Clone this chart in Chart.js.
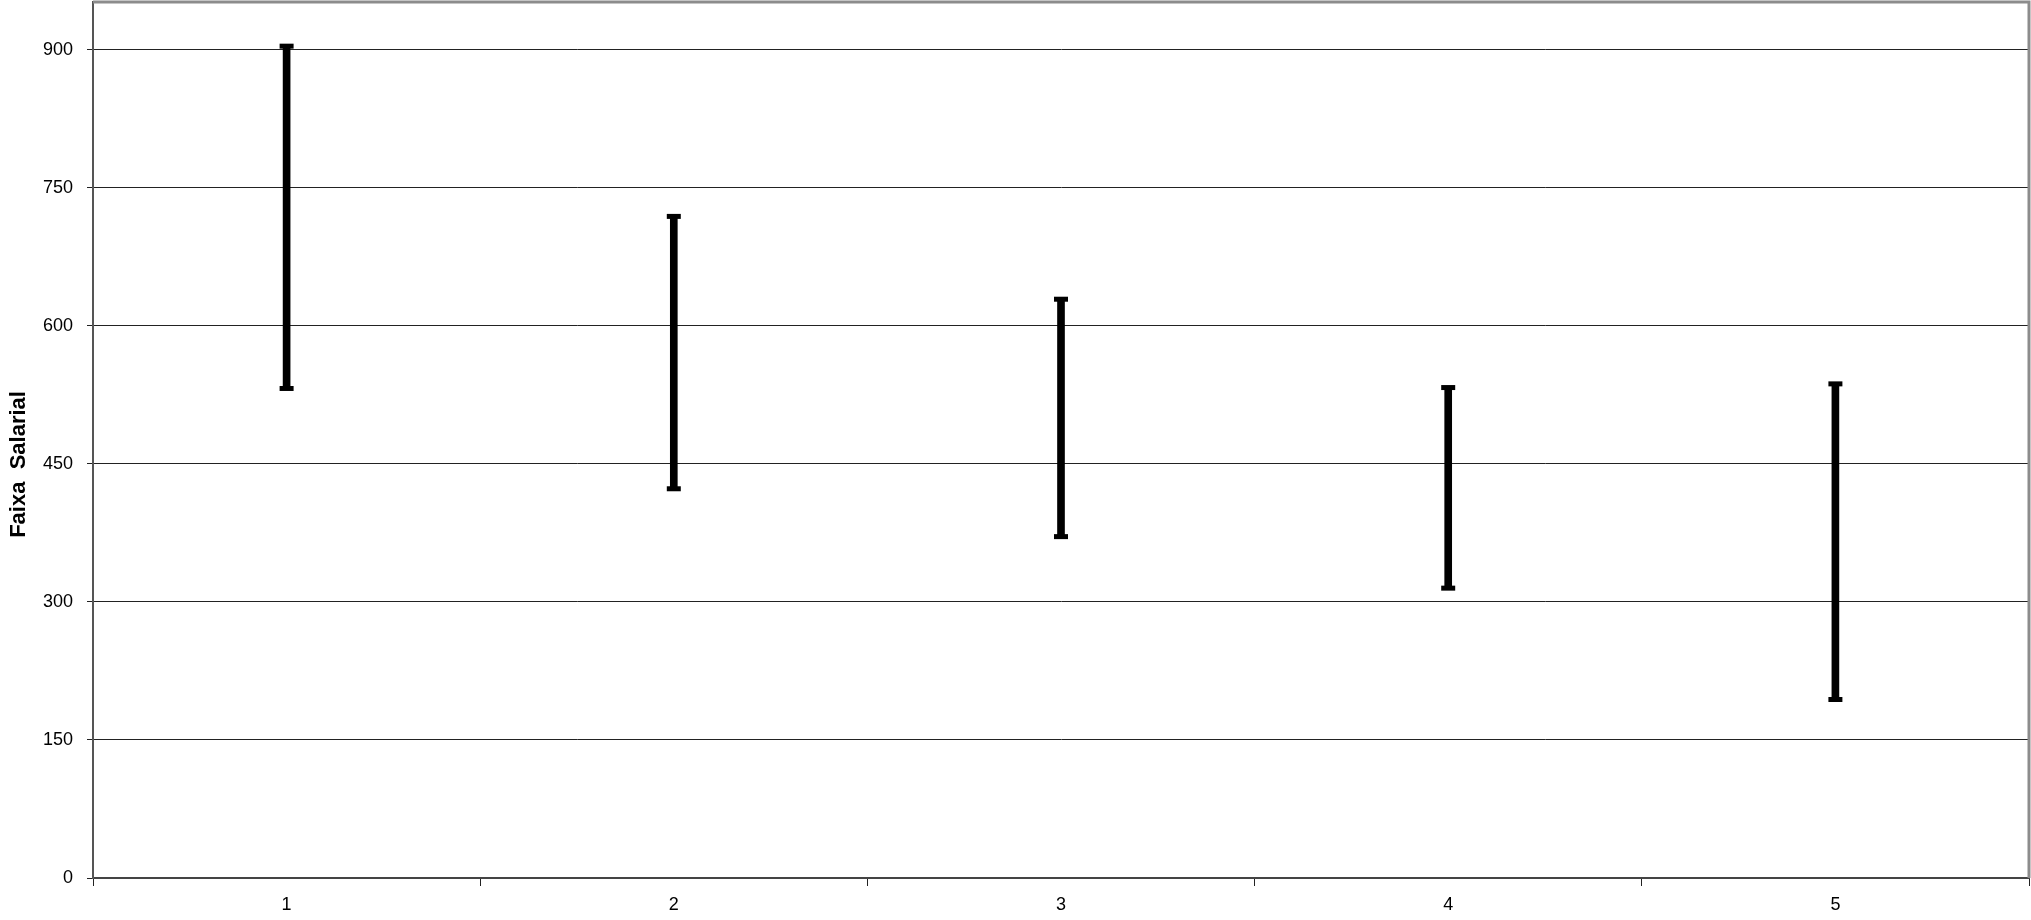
<!DOCTYPE html>
<html>
<head>
<meta charset="utf-8">
<title>Faixa Salarial</title>
<script src="https://cdn.jsdelivr.net/npm/chart.js@4.4.1/dist/chart.umd.min.js"></script>
<style>
  html, body { margin: 0; padding: 0; background: #ffffff; }
  #wrap { width: 2031px; height: 920px; }
</style>
</head>
<body>
<div id="wrap"><canvas id="chartFaixa"></canvas></div>
<script>
// ================================================
// Data
// ================================================

const categories = ['1', '2', '3', '4', '5'];
const highValues = [904, 719, 629, 533, 537];
const lowValues = [532, 423, 371, 315, 194];
const yTicks = [0, 150, 300, 450, 600, 750, 900];
const yMax = 952;

// ================================================
// Plot frame (top + right border, like the Excel plot area)
// ================================================

const frameBorder = {
  id: 'frameBorder',
  afterDraw(chart) {
    const a = chart.chartArea;
    const ctx = chart.ctx;
    ctx.save();
    ctx.strokeStyle = '#8c8c8c';
    ctx.lineWidth = 3;
    ctx.beginPath();
    ctx.moveTo(a.left, a.top);
    ctx.lineTo(a.right, a.top);
    ctx.lineTo(a.right, a.bottom);
    ctx.stroke();
    ctx.restore();
  }
};

const tickFont = { family: 'Liberation Sans, Arial, sans-serif', size: 18 };

// ================================================
// Chart
// ================================================

const ranges = categories.map((c, i) => [lowValues[i], highValues[i]]);

new Chart(document.getElementById('chartFaixa'), {
  type: 'bar',
  data: {
    labels: categories,
    datasets: [
      {
        label: 'Faixa',
        data: ranges,
        backgroundColor: '#000000',
        barThickness: 7,
        borderSkipped: false,
        order: 2
      },
      {
        type: 'line',
        label: 'Max',
        data: highValues,
        showLine: false,
        pointStyle: 'line',
        pointRadius: 7,
        borderWidth: 5,
        borderColor: '#000000',
        order: 1
      },
      {
        type: 'line',
        label: 'Min',
        data: lowValues,
        showLine: false,
        pointStyle: 'line',
        pointRadius: 7,
        borderWidth: 5,
        borderColor: '#000000',
        order: 1
      }
    ]
  },
  options: {
    responsive: true,
    maintainAspectRatio: false,
    animation: false,
    layout: { autoPadding: false, padding: { top: 2, right: 2, left: 0, bottom: 0 } },
    plugins: {
      legend: { display: false },
      tooltip: { enabled: false }
    },
    scales: {
      x: {
        offset: true,
        grid: {
          offset: true,
          drawOnChartArea: false,
          drawTicks: true,
          tickLength: 8,
          color: '#222222'
        },
        border: { color: '#444444', width: 2 },
        ticks: {
          color: '#000000',
          padding: 8,
          font: tickFont
        },
        afterFit(scale) {
          scale.height = 42;
          scale.paddingLeft = 0;
          scale.paddingRight = 0;
        }
      },
      y: {
        min: 0,
        max: yMax,
        afterBuildTicks(scale) {
          scale.ticks = yTicks.map(v => ({ value: v }));
        },
        grid: {
          color: '#222222',
          lineWidth: 1,
          tickLength: 6
        },
        border: { color: '#555555', width: 2 },
        ticks: {
          color: '#000000',
          padding: 14,
          font: tickFont
        },
        title: {
          display: true,
          // trailing spaces nudge the rotated title down, as in the original
          text: 'Faixa  Salarial        ',
          color: '#000000',
          padding: { top: 6, bottom: 0 },
          font: { family: 'Liberation Sans, Arial, sans-serif', size: 22, weight: 'bold' }
        },
        afterFit(scale) {
          scale.width = 93;
          scale.paddingTop = 0;
          scale.paddingBottom = 0;
        }
      }
    }
  },
  plugins: [frameBorder]
});
</script>
</body>
</html>
